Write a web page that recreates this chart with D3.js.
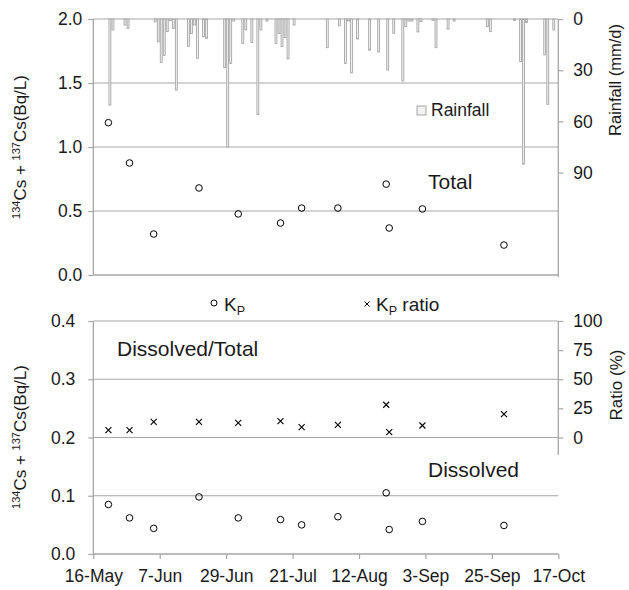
<!DOCTYPE html>
<html>
<head>
<meta charset="utf-8">
<script src="https://cdn.jsdelivr.net/npm/d3@7"></script>
<style>
  html, body { margin: 0; padding: 0; background: #fff; }
  svg { display: block; }
  text { font-family: "Liberation Sans", Arial, sans-serif; fill: #1a1a1a; }
</style>
</head>
<body>
<svg id="chart" width="629" height="590"></svg>
<script>
// ---------------- DATA ----------------
const tickDates = ["2011-05-16","2011-06-07","2011-06-29","2011-07-21","2011-08-12","2011-09-03","2011-09-25","2011-10-17"];
const leftTicksTop = [0, 0.5, 1.0, 1.5, 2.0];
const rainTicks = [0, 30, 60, 90];
const leftTicksBottom = [0, 0.1, 0.2, 0.3, 0.4];
const ratioTicks = [0, 25, 50, 75, 100];

const rainDates = ["2011-05-21","2011-05-22","2011-05-26","2011-05-27","2011-06-05","2011-06-06","2011-06-07","2011-06-08",
  "2011-06-09","2011-06-10","2011-06-11","2011-06-12","2011-06-16","2011-06-17","2011-06-18","2011-06-19","2011-06-21",
  "2011-06-22","2011-06-28","2011-06-29","2011-06-30","2011-07-01","2011-07-04","2011-07-05","2011-07-07","2011-07-09",
  "2011-07-10","2011-07-12","2011-07-15","2011-07-16","2011-07-17","2011-07-18","2011-07-19","2011-07-21","2011-08-01",
  "2011-08-05","2011-08-07","2011-08-08","2011-08-09","2011-08-11","2011-08-15","2011-08-18","2011-08-21","2011-08-23",
  "2011-08-26","2011-08-27","2011-08-28","2011-08-29","2011-08-31","2011-09-01","2011-09-05","2011-09-06","2011-09-10",
  "2011-09-12","2011-09-23","2011-09-24","2011-10-02","2011-10-04","2011-10-05","2011-10-06","2011-10-12","2011-10-13",
  "2011-10-15"];
const rainValues = [50.4, 6.4, 3.5, 5.5, 1.6, 13.4, 25.5, 21.3,
  7.4, 1.0, 5.5, 41.6, 16, 8.5, 3.5, 23, 10.4,
  11.3, 28.5, 75, 26, 1.2, 14.3, 6.4, 13.7, 56,
  6.4, 1.2, 14.3, 8.4, 16.2, 11, 23.4, 3.5, 16.8,
  4, 26, 1.2, 31.5, 11.7, 18.2, 19.3, 29.9, 8.4,
  36.3, 4.5, 1.2, 1.2, 7.6, 1.5, 0.8, 16.8, 5.9,
  1.2, 4.5, 7.4, 0.8, 25, 85, 2, 21, 50,
  6.4];

const sampleDates = ["2011-05-21","2011-05-28","2011-06-05","2011-06-20","2011-07-03","2011-07-17",
  "2011-07-24","2011-08-05","2011-08-21","2011-08-22","2011-09-02","2011-09-29"];
const totalValues = [1.19, 0.875, 0.32, 0.68, 0.477, 0.406, 0.523, 0.523, 0.71, 0.367, 0.516, 0.234];
const dissolvedValues = [0.085, 0.062, 0.044, 0.098, 0.062, 0.059, 0.050, 0.064, 0.105, 0.042, 0.056, 0.049];
const ratioValues = [6.3, 6.3, 13.5, 13.5, 12.6, 14.0, 8.9, 10.9, 28.1, 4.6, 10.3, 20.1];

// ---------------- CHART ----------------
const parse = d3.utcParse("%Y-%m-%d");
const svg = d3.select("#chart");
const AX = "#a6a6a6";

const x = d3.scaleUtc().domain([parse("2011-05-16"), parse("2011-10-17")]).range([93.3, 558.3]);
const dayW = x(parse("2011-05-17")) - x(parse("2011-05-16"));
const L = x.range()[0], R = x.range()[1];

const yTop = d3.scaleLinear().domain([0, 2]).range([275, 19]);
const yRain = d3.scaleLinear().domain([0, 150]).range([19, 275]);
const yBot = d3.scaleLinear().domain([0, 0.4]).range([554, 321]);
const yRatio = d3.scaleLinear().domain([-100, 100]).range([554, 321]);

function styleAxis(g, size) {
  g.select(".domain").remove();
  g.selectAll(".tick line").attr("stroke", AX).attr("stroke-width", 1.2);
  g.selectAll(".tick text").attr("font-size", size).attr("fill", "#1a1a1a")
    .attr("font-family", '"Liberation Sans", Arial, sans-serif');
}

// ---- TOP PANEL ----
// grid
svg.append("g").selectAll("line").data(leftTicksTop.filter(d => d > 0)).join("line")
  .attr("x1", L).attr("x2", R).attr("y1", d => yTop(d)).attr("y2", d => yTop(d))
  .attr("stroke", AX).attr("stroke-width", 1.2);

// rainfall bars
const bw = 1.9;
svg.append("g").selectAll("rect").data(rainDates.map((d, i) => ({d: parse(d), v: rainValues[i]}))).join("rect")
  .attr("x", d => x(d.d) + dayW * 0.5 - bw / 2)
  .attr("y", yRain(0))
  .attr("width", bw)
  .attr("height", d => yRain(d.v) - yRain(0))
  .attr("fill", "#f2f2f2").attr("stroke", "#a6a6a6").attr("stroke-width", 0.9);

// axes lines
svg.append("line").attr("x1", L).attr("x2", L).attr("y1", yTop(2)).attr("y2", yTop(0)).attr("stroke", AX).attr("stroke-width", 1.3);
svg.append("line").attr("x1", R).attr("x2", R).attr("y1", yTop(2)).attr("y2", yTop(0) + 2).attr("stroke", AX).attr("stroke-width", 1.3);
svg.append("line").attr("x1", L).attr("x2", R).attr("y1", yTop(0)).attr("y2", yTop(0)).attr("stroke", AX).attr("stroke-width", 1.3);

const gTL = svg.append("g").attr("transform", `translate(${L},0)`)
  .call(d3.axisLeft(yTop).tickValues(leftTicksTop).tickFormat(d3.format(".1f")).tickSize(5).tickSizeOuter(0).tickPadding(6));
styleAxis(gTL, 17.5);

const gTR = svg.append("g").attr("transform", `translate(${R},0)`)
  .call(d3.axisRight(yRain).tickValues(rainTicks).tickSize(5).tickSizeOuter(0).tickPadding(10));
styleAxis(gTR, 17.5);

// total points
svg.append("g").selectAll("circle").data(sampleDates.map((d, i) => ({d: parse(d), v: totalValues[i]}))).join("circle")
  .attr("cx", d => x(d.d)).attr("cy", d => yTop(d.v)).attr("r", 3.3)
  .attr("fill", "none").attr("stroke", "#000").attr("stroke-width", 1);

// legend rainfall
svg.append("rect").attr("x", 417).attr("y", 106).attr("width", 9).attr("height", 9)
  .attr("fill", "#f2f2f2").attr("stroke", "#a6a6a6").attr("stroke-width", 1);
svg.append("text").attr("x", 431).attr("y", 116).attr("font-size", 17.5).text("Rainfall");
svg.append("text").attr("x", 428).attr("y", 189).attr("font-size", 21).text("Total");

// axis titles
function csTitle(cx, cy) {
  const t = svg.append("text").attr("transform", `translate(${cx},${cy}) rotate(-90)`)
    .attr("text-anchor", "middle").attr("font-size", 17).attr("fill", "#333");
  t.append("tspan").attr("font-size", 11).attr("dy", -6).text("134");
  t.append("tspan").attr("dy", 6).text("Cs + ");
  t.append("tspan").attr("font-size", 11).attr("dy", -6).text("137");
  t.append("tspan").attr("dy", 6).text("Cs(Bq/L)");
}
csTitle(26, 147);
csTitle(26, 437);

svg.append("text").attr("transform", "translate(621,80) rotate(-90)").attr("text-anchor", "middle")
  .attr("font-size", 16.5).attr("fill", "#333").text("Rainfall (mm/d)");
svg.append("text").attr("transform", "translate(622,385) rotate(-90)").attr("text-anchor", "middle")
  .attr("font-size", 17).attr("fill", "#333").text("Ratio (%)");

// ---- BOTTOM PANEL ----
svg.append("g").selectAll("line").data(leftTicksBottom.filter(d => d > 0)).join("line")
  .attr("x1", L).attr("x2", R).attr("y1", d => yBot(d)).attr("y2", d => yBot(d))
  .attr("stroke", AX).attr("stroke-width", 1.2);

svg.append("line").attr("x1", L).attr("x2", L).attr("y1", yBot(0.4)).attr("y2", yBot(0)).attr("stroke", AX).attr("stroke-width", 1.3);
svg.append("line").attr("x1", L).attr("x2", R).attr("y1", yBot(0)).attr("y2", yBot(0)).attr("stroke", AX).attr("stroke-width", 1.3);
svg.append("line").attr("x1", R).attr("x2", R).attr("y1", yBot(0.4)).attr("y2", 455).attr("stroke", AX).attr("stroke-width", 1.3);

const gBL = svg.append("g").attr("transform", `translate(${L},0)`)
  .call(d3.axisLeft(yBot).tickValues(leftTicksBottom).tickFormat(d3.format(".1f")).tickSize(5).tickSizeOuter(0).tickPadding(13));
styleAxis(gBL, 17.5);

const gBR = svg.append("g").attr("transform", `translate(${R},0)`)
  .call(d3.axisRight(yRatio).tickValues(ratioTicks).tickSize(5).tickSizeOuter(0).tickPadding(10));
styleAxis(gBR, 17.5);

const gBX = svg.append("g").attr("transform", `translate(0,${yBot(0)})`)
  .call(d3.axisBottom(x).tickValues(tickDates.map(parse)).tickFormat(d3.utcFormat("%-d-%b")).tickSize(5).tickSizeOuter(0).tickPadding(11));
styleAxis(gBX, 17.5);

// ratio crosses
svg.append("g").selectAll("path").data(sampleDates.map((d, i) => ({d: parse(d), v: ratioValues[i]}))).join("path")
  .attr("transform", d => `translate(${x(d.d)},${yRatio(d.v)})`)
  .attr("d", "M-3,-3L3,3M3,-3L-3,3")
  .attr("stroke", "#000").attr("stroke-width", 1.1).attr("fill", "none");

// dissolved points
svg.append("g").selectAll("circle").data(sampleDates.map((d, i) => ({d: parse(d), v: dissolvedValues[i]}))).join("circle")
  .attr("cx", d => x(d.d)).attr("cy", d => yBot(d.v)).attr("r", 3.3)
  .attr("fill", "none").attr("stroke", "#000").attr("stroke-width", 1);

// annotations
svg.append("text").attr("x", 117).attr("y", 356).attr("font-size", 21).text("Dissolved/Total");
svg.append("text").attr("x", 428).attr("y", 477).attr("font-size", 21).text("Dissolved");

// legend Kp
svg.append("circle").attr("cx", 214).attr("cy", 303).attr("r", 3).attr("fill", "none").attr("stroke", "#000").attr("stroke-width", 1);
const k1 = svg.append("text").attr("x", 224).attr("y", 311).attr("font-size", 19);
k1.append("tspan").text("K");
k1.append("tspan").attr("font-size", 12.5).attr("dy", 4).text("P");

svg.append("path").attr("transform", "translate(367,304)").attr("d", "M-2.5,-2.5L2.5,2.5M2.5,-2.5L-2.5,2.5")
  .attr("stroke", "#000").attr("stroke-width", 1);
const k2 = svg.append("text").attr("x", 376).attr("y", 311).attr("font-size", 19);
k2.append("tspan").text("K");
k2.append("tspan").attr("font-size", 12.5).attr("dy", 4).text("P");
k2.append("tspan").attr("dy", -4).text(" ratio");
</script>
</body>
</html>
